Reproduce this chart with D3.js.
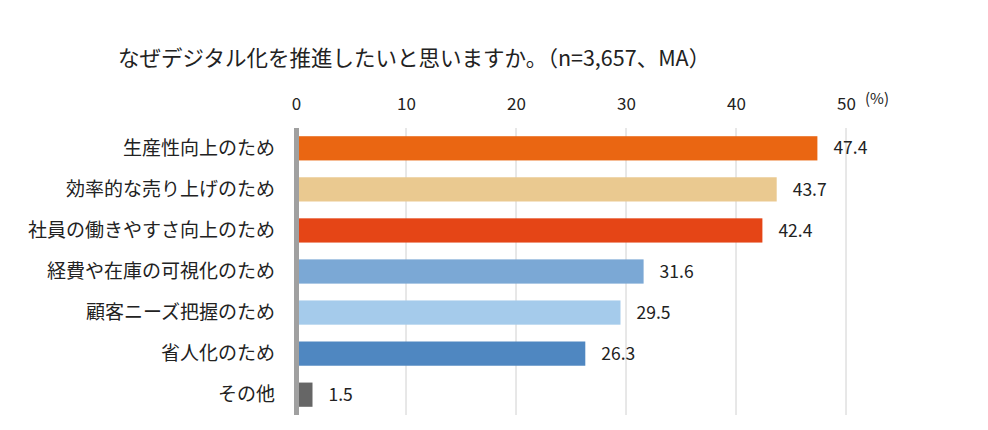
<!DOCTYPE html>
<html>
<head>
<meta charset="utf-8">
<script src="https://cdn.jsdelivr.net/npm/d3@7"></script>
<style>
  body { margin: 0; background: #fff; }
  text { font-family: "Noto Sans CJK JP", "Noto Sans", sans-serif; fill: #222; }
</style>
</head>
<body>
<script>
const categories = ["生産性向上のため", "効率的な売り上げのため", "社員の働きやすさ向上のため",
  "経費や在庫の可視化のため", "顧客ニーズ把握のため", "省人化のため", "その他"]
const values = [47.4, 43.7, 42.4, 31.6, 29.5, 26.3, 1.5]
const colors = ["#EA6612", "#EAC990", "#E54516", "#7BA8D5", "#A5CBEB", "#4F87C1", "#666666"]
const ticks = [0, 10, 20, 30, 40, 50]

const width = 988, height = 430
const svg = d3.select("body").append("svg").attr("width", width).attr("height", height)

const x = d3.scaleLinear().domain([0, 50]).range([296, 846])
const y = d3.scaleBand().domain(categories).range([128, 415]).paddingInner(0.41).paddingOuter(0.2)

// title
svg.append("text").attr("x", 118).attr("y", 66).attr("font-size", 21.5).text("なぜデジタル化を推進したいと思いますか。（n=3,657、MA）")

// gridlines
svg.append("g").selectAll("line").data(ticks.slice(1)).join("line")
  .attr("x1", d => x(d)).attr("x2", d => x(d))
  .attr("y1", 128).attr("y2", 415)
  .attr("stroke", "#d0d0d0").attr("stroke-width", 1)

// top axis
const axis = svg.append("g").attr("transform", "translate(0,110)")
  .call(d3.axisTop(x).tickValues(ticks).tickSize(0).tickPadding(0))
axis.select(".domain").remove()
axis.selectAll("text").attr("font-size", 17).attr("font-family", "Noto Sans CJK JP").attr("fill", "#222")
svg.append("text").attr("x", 865).attr("y", 104).attr("font-size", 15).text("(%)")

// bars
svg.append("g").selectAll("rect").data(values).join("rect")
  .attr("x", x(0) + 3)
  .attr("y", (d, i) => y(categories[i]))
  .attr("width", d => x(d) - x(0) - 3)
  .attr("height", y.bandwidth())
  .attr("fill", (d, i) => colors[i])

// value labels
svg.append("g").selectAll("text").data(values).join("text")
  .attr("x", d => x(d) + 16)
  .attr("y", (d, i) => y(categories[i]) + y.bandwidth() / 2)
  .attr("dy", "0.35em").attr("font-size", 17.5)
  .text(d => d.toFixed(1))

// category labels
svg.append("g").selectAll("text").data(categories).join("text")
  .attr("x", 275)
  .attr("y", d => y(d) + y.bandwidth() / 2)
  .attr("dy", "0.35em").attr("text-anchor", "end").attr("font-size", 19)
  .text(d => d)

// vertical axis line
svg.append("line").attr("x1", 296.5).attr("x2", 296.5).attr("y1", 128).attr("y2", 415)
  .attr("stroke", "#a0a0a0").attr("stroke-width", 5)
</script>
</body>
</html>
